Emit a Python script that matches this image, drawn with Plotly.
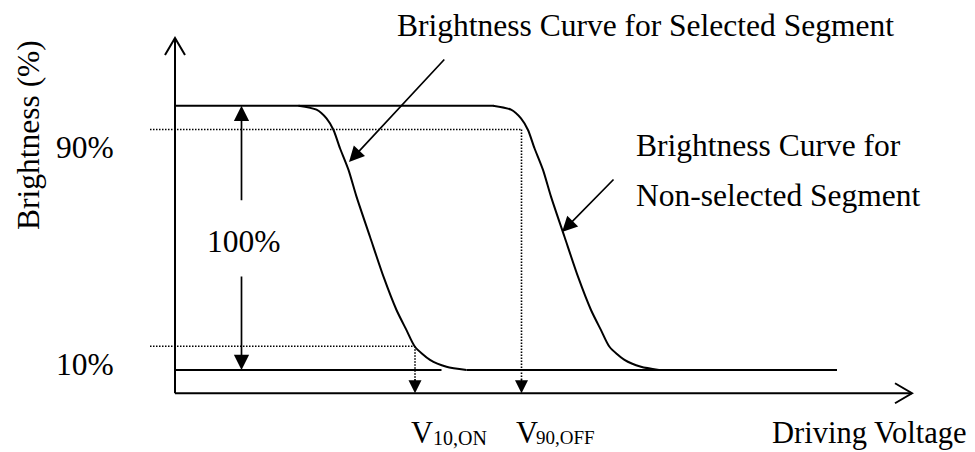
import plotly.graph_objects as go

# ---------------- data ----------------
# Driving voltage in arbitrary units, brightness in %
sel_v = [2.47, 2.83, 3.03, 3.17, 3.30, 3.47, 3.63, 3.90, 4.17, 4.43, 4.63, 4.80, 5.10, 5.43, 5.83]
sel_b = [100, 98.5, 95.2, 90.8, 83.9, 75.7, 65.6, 50.4, 35.3, 22.7, 15.1, 8.8, 3.8, 1.2, 0]

non_v = [6.36, 6.72, 6.92, 7.06, 7.19, 7.36, 7.52, 7.79, 8.06, 8.32, 8.52, 8.69, 8.99, 9.32, 9.68]
non_b = [100, 98.5, 95.2, 90.8, 83.9, 75.7, 65.6, 50.4, 35.3, 22.7, 15.1, 8.8, 3.8, 1.2, 0]

top_v = [0, 6.37]          # 100 % level line
top_b = [100, 100]
low_left_v = [0, 5.33]     # 0 % level line (left part)
low_right_v = [5.83, 13.24]
low_b = [0, 0]

B90 = 91.0
B10 = 9.0
V10_ON = 4.80
V90_OFF = 6.93
DOT_START_V = -0.5

AXIS_B = -8.8      # level of the drawn voltage axis
AXIS_TOP_B = 125.6
AXIS_END_V = 14.74

PCT_ARROW_V = 1.33
PCT_GAP = [63.7, 35.9]

labels_text = ["90%", "10%", "100%"]

# ---------------- layout mapping ----------------
W, H = 975, 452
PAGE_OFF = 8                 # default body margin of the page
X0_PX, PX_PER_V = 175.0, 50.0
Y0_PX, PX_PER_B = 370.0, 2.643

def vx(px):
    return (px - X0_PX) / PX_PER_V

def by(py):
    return (Y0_PX - py) / PX_PER_B

x_range = [vx(PAGE_OFF), vx(W + PAGE_OFF)]
y_range = [by(H + PAGE_OFF), by(PAGE_OFF)]

FONT = "Liberation Serif, Times New Roman, serif"
FS = 31.5
BLACK = "black"

fig = go.Figure()

def line(xs, ys, width=2, dash=None):
    fig.add_trace(go.Scatter(x=xs, y=ys, mode="lines",
                             line=dict(color=BLACK, width=width, dash=dash),
                             hoverinfo="skip", showlegend=False))

# level lines
line(top_v, top_b)
line(low_left_v, low_b)
line(low_right_v, low_b)

# brightness curves
for xs, ys in [(sel_v, sel_b), (non_v, non_b)]:
    fig.add_trace(go.Scatter(x=xs, y=ys, mode="lines",
                             line=dict(color=BLACK, width=2, shape="spline", smoothing=0.7),
                             hoverinfo="skip", showlegend=False))

# dotted guide lines
DOT = "1.5px,1.5px"
line([DOT_START_V, V90_OFF], [B90, B90], width=1.6, dash=DOT)
line([V90_OFF, V90_OFF], [B90, AXIS_B + 3], width=1.6, dash=DOT)
line([DOT_START_V, V10_ON], [B10, B10], width=1.6, dash=DOT)
line([V10_ON, V10_ON], [B10, AXIS_B + 3], width=1.6, dash=DOT)

# axes
line([0, 0], [AXIS_B, AXIS_TOP_B], width=2)
line([0, AXIS_END_V], [AXIS_B, AXIS_B], width=2)

# open chevrons at the axis ends (sizes in pixels)
CH_LEN, CH_HALF = 17, 10
fig.add_trace(go.Scatter(
    x=[0 - CH_HALF / PX_PER_V, 0, 0 + CH_HALF / PX_PER_V],
    y=[AXIS_TOP_B - CH_LEN / PX_PER_B, AXIS_TOP_B, AXIS_TOP_B - CH_LEN / PX_PER_B],
    mode="lines", line=dict(color=BLACK, width=2), hoverinfo="skip", showlegend=False))
fig.add_trace(go.Scatter(
    x=[AXIS_END_V - CH_LEN / PX_PER_V, AXIS_END_V, AXIS_END_V - CH_LEN / PX_PER_V],
    y=[AXIS_B + CH_HALF / PX_PER_B, AXIS_B, AXIS_B - CH_HALF / PX_PER_B],
    mode="lines", line=dict(color=BLACK, width=2), hoverinfo="skip", showlegend=False))

annotations = []

def arrow(tail, tip, width=1.7, size=1.8):
    annotations.append(dict(x=tip[0], y=tip[1], ax=tail[0], ay=tail[1],
                            xref="x", yref="y", axref="x", ayref="y",
                            text="", showarrow=True, arrowhead=2,
                            arrowsize=size, arrowwidth=width, arrowcolor=BLACK,
                            standoff=0, startstandoff=0))

# 100 % double arrow
arrow((PCT_ARROW_V, PCT_GAP[0]), (PCT_ARROW_V, 100))
arrow((PCT_ARROW_V, PCT_GAP[1]), (PCT_ARROW_V, 0))

# heads of the dotted arrows at the voltage axis
arrow((V10_ON, AXIS_B + 6), (V10_ON, AXIS_B), width=1.3, size=2.0)
arrow((V90_OFF, AXIS_B + 6), (V90_OFF, AXIS_B), width=1.3, size=2.0)

# pointer arrows
arrow((vx(445.7), by(58)), (vx(349), by(162)))
arrow((vx(615), by(178)), (vx(562), by(232)))

def text(t, px, py, xanchor="left", angle=0, size=FS):
    annotations.append(dict(x=vx(px), y=by(py), xref="x", yref="y", text=t,
                            showarrow=False, xanchor=xanchor, yanchor="middle",
                            textangle=angle,
                            font=dict(family=FONT, size=size, color=BLACK)))

text("Brightness Curve for Selected Segment", 645, 25.5, xanchor="center")
text("Brightness Curve for", 634, 145.5)
text("Non-selected Segment", 634, 195.5)
text(labels_text[0], 84.5, 147.5, xanchor="center")
text(labels_text[1], 84.5, 364, xanchor="center")
text(labels_text[2], 243.5, 241.5, xanchor="center")
# V with subscripts (drawn as two texts each)
text("V", 409, 433, size=30.5)
text("10,ON", 431, 437.5, size=20)
text("V", 514, 433, size=30.5)
text("90,OFF", 534, 437.5, size=19)
text("Driving Voltage", 770, 432.5, size=30.5)
text("Brightness (%)", 28, 135, xanchor="center", angle=-90)

fig.update_layout(
    width=W, height=H,
    margin=dict(l=0, r=0, t=0, b=0),
    paper_bgcolor="white", plot_bgcolor="white",
    xaxis=dict(range=x_range, visible=False, fixedrange=True),
    yaxis=dict(range=y_range, visible=False, fixedrange=True),
    annotations=annotations,
    showlegend=False,
)

fig.write_html("out.html")
